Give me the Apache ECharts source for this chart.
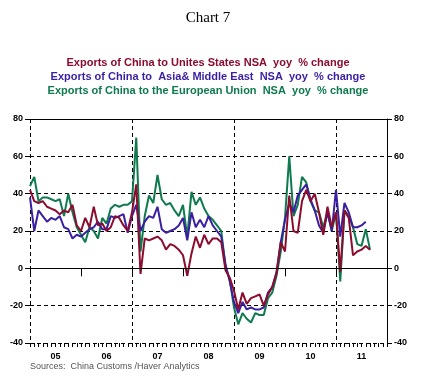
<!DOCTYPE html>
<html><head><meta charset="utf-8">
<script src="https://cdn.jsdelivr.net/npm/echarts@6/dist/echarts.min.js"></script>
<style>html,body{margin:0;padding:0;background:#fff}#c{width:425px;height:378px}</style>
</head><body><div id="c"></div>
<script>
// Monthly data, Jan 2005 onward (yoy % change)
const startYear = 2005;
const yearLabels = ['05','06','07','08','09','10','11'];
const yTicks = [-40,-20,0,20,40,60,80];
const usExports = [42,36,35,36,33,32,31,29,31,30,34,23,
  20,27,22,33,23,24,20,22,28,27,23,20,
  30,45,-3,16,15,16,17,15,10,13,12,10,
  7,-4,8,17,11,18,13,16,16,14,-1,-5,
  -12,-22,-13,-19,-16,-15,-14,-20,-14,-10,-3,14,
  9,39,20,19,36,42,36,40,30,18,33,22,
  30,-2,31,27,7,9,10,12,10];
const asiaMeExports = [38,20,31,28,25,27,26,28,22,21,16,18,
  17,19,21,22,25,21,21,28,27,28,29,19,
  28,34,20,25,28,27,33,21,19,20,21,23,
  27,15,30,22,26,22,28,23,20,17,2,-7,
  -18,-24,-18,-22,-21,-22,-22,-21,-13,-10,-2,14,
  26,35,30,39,42,45,37,31,23,19,30,20,
  42,17,35,30,22,22,23,25,null];
const euExports = [44,49,36,38,38,37,36,37,28,40,30,22,
  18,14,22,20,16,27,24,32,34,33,34,34,
  36,70,9,28,39,35,50,37,34,35,31,28,
  34,17,41,34,38,32,28,26,23,20,1,-6,
  -21,-30,-24,-27,-29,-24,-25,-25,-16,-13,-4,9,
  27,60,28,34,49,46,36,31,30,22,30,20,
  30,-7,31,28,22,13,12,21,10];

function toPairs(arr){ return arr.map((v,i)=>[startYear + i/12, v]); }
const monthCats = [];
yearLabels.forEach(y=>{ for(let m=1;m<=12;m++) monthCats.push(y+'-'+m); });

const C_US = '#8c0c2e', C_ASIA = '#3a1fa3', C_EU = '#0e7a4e';
const chart = echarts.init(document.getElementById('c'), null, {renderer:'canvas'});
const dash = {color:'#000', width:1, type:[4,3]};
const axisFont = {fontFamily:'Liberation Sans, Arial, sans-serif', fontWeight:'bold', fontSize:9, color:'#000'};
const legendFont = 'bold 11px "Liberation Sans", Arial, sans-serif';

chart.setOption({
  animation:false,
  backgroundColor:'#fff',
  grid:{left:30, right:38, top:119, bottom:35, containLabel:false},
  graphic:[
    {type:'text', x:208, y:18, style:{text:'Chart 7', textAlign:'center', textVerticalAlign:'middle', font:'15px "Liberation Serif", "Times New Roman", serif', fill:'#000'}},
    {type:'text', x:208, y:63, style:{text:'Exports of China to Unites States NSA  yoy  % change', textAlign:'center', textVerticalAlign:'middle', font:legendFont, fill:C_US}},
    {type:'text', x:208, y:77, style:{text:'Exports of China to  Asia& Middle East  NSA  yoy  % change', textAlign:'center', textVerticalAlign:'middle', font:legendFont, fill:C_ASIA}},
    {type:'text', x:208, y:91, style:{text:'Exports of China to the European Union  NSA  yoy  % change', textAlign:'center', textVerticalAlign:'middle', font:legendFont, fill:C_EU}},
    {type:'text', x:30, y:367, style:{text:'Sources:  China Customs /Haver Analytics', textAlign:'left', textVerticalAlign:'middle', font:'9px "Liberation Sans", Arial, sans-serif', fill:'#555'}}
  ],
  xAxis:[
    {type:'value', min:2005, max:2012, interval:1, position:'bottom',
     axisLine:{show:true, lineStyle:{color:'#000', width:1}},
     axisTick:{show:true, length:8, lineStyle:{color:'#000'}},
     axisLabel:{show:false}, splitLine:{show:false}},
    {type:'category', data:yearLabels, position:'bottom', boundaryGap:true,
     axisLine:{show:false}, axisTick:{show:false}, splitLine:{show:false},
     axisLabel:Object.assign({margin:9}, axisFont)},
    {type:'value', min:2005, max:2012, interval:2, position:'top',
     axisLine:{show:true, lineStyle:{color:'#000', width:1}},
     axisTick:{show:false}, axisLabel:{show:false},
     splitLine:{show:true, lineStyle:dash}},
    {type:'category', data:monthCats, position:'bottom', boundaryGap:true,
     axisLine:{show:false}, axisTick:{show:true, interval:0, length:4, lineStyle:{color:'#000'}},
     axisLabel:{show:false}, splitLine:{show:false}}
  ],
  yAxis:[
    {type:'value', min:-40, max:80, interval:20, position:'left',
     axisLine:{show:false}, axisTick:{show:true, length:5, lineStyle:{color:'#000'}},
     axisLabel:Object.assign({margin:7}, axisFont),
     splitLine:{show:true, lineStyle:dash}},
    {type:'value', min:-40, max:80, interval:20, position:'right',
     axisLine:{show:true, lineStyle:{color:'#000', width:1}},
     axisTick:{show:true, length:5, lineStyle:{color:'#000'}},
     axisLabel:Object.assign({margin:7}, axisFont),
     splitLine:{show:false}}
  ],
  series:[
    {name:'EU', type:'line', xAxisIndex:0, yAxisIndex:0, data:toPairs(euExports), showSymbol:false,
     lineStyle:{color:C_EU, width:2}, itemStyle:{color:C_EU},
     markLine:{silent:true, symbol:'none', label:{show:false}, lineStyle:{color:'#000', type:'solid', width:1}, data:[{yAxis:0}]}},
    {name:'Asia', type:'line', xAxisIndex:0, yAxisIndex:0, data:toPairs(asiaMeExports), showSymbol:false,
     lineStyle:{color:C_ASIA, width:2}, itemStyle:{color:C_ASIA}},
    {name:'US', type:'line', xAxisIndex:0, yAxisIndex:0, data:toPairs(usExports), showSymbol:false,
     lineStyle:{color:C_US, width:2}, itemStyle:{color:C_US}}
  ]
});
</script></body></html>
